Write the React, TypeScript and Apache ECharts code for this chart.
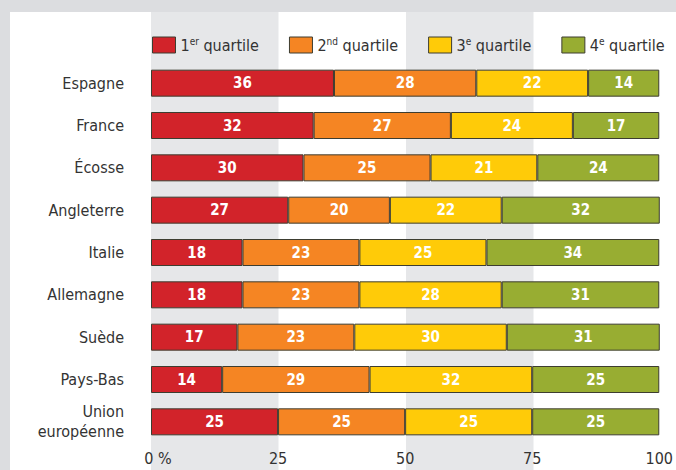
import React, { useEffect, useRef } from "react";
import * as echarts from "echarts";

const categories = ["Espagne", "France", "Écosse", "Angleterre", "Italie", "Allemagne", "Suède", "Pays-Bas", "Union\neuropéenne"];
const seriesNames = ["1er quartile", "2nd quartile", "3e quartile", "4e quartile"];
const q1 = [36, 32, 30, 27, 18, 18, 17, 14, 25];
const q2 = [28, 27, 25, 20, 23, 23, 23, 29, 25];
const q3 = [22, 24, 21, 22, 25, 28, 30, 32, 25];
const q4 = [14, 17, 24, 32, 34, 31, 31, 25, 25];
const xTicks = [0, 25, 50, 75, 100];

const colors = ["#d2232a", "#f58523", "#ffcb08", "#98ad32"];
const FONT = "'DejaVu Sans Condensed', 'DejaVu Sans', sans-serif";
const TEXT = "#333333";

export default function App() {
  const ref = useRef<HTMLDivElement>(null);
  useEffect(() => {
    const chart = echarts.init(ref.current!, null, { renderer: "svg" });
    const values = [q1, q2, q3, q4];
    const legendRich: Record<string, string> = {
      "1er quartile": "1{s|er} quartile",
      "2nd quartile": "2{s|nd} quartile",
      "3e quartile": "3{s|e} quartile",
      "4e quartile": "4{s|e} quartile",
    };
    const gridLeft = 151;
    const gridRight = 15;
    chart.setOption({
      animation: false,
      backgroundColor: "#ffffff",
      textStyle: { fontFamily: FONT },
      graphic: [
        { type: "rect", left: 0, top: 0, shape: { width: 676, height: 12 }, style: { fill: "#dcdde0" }, z: -10 },
        { type: "rect", left: 0, top: 0, shape: { width: 10, height: 470 }, style: { fill: "#dcdde0" }, z: -10 },
      ],
      legend: {
        left: 152,
        top: 36,
        padding: 0,
        itemWidth: 23,
        itemHeight: 16,
        itemGap: 30,
        icon: "rect",
        data: seriesNames.map((n, i) => ({
          name: n,
          itemStyle: { color: colors[i], borderColor: "#3d3d30", borderWidth: 1 },
        })),
        formatter: (name: string) => legendRich[name] || name,
        textStyle: {
          fontFamily: FONT,
          fontSize: 16,
          color: TEXT,
          lineHeight: 18,
          rich: {
            s: { fontFamily: FONT, fontSize: 10, color: TEXT, verticalAlign: "top", lineHeight: 11 },
          },
        },
        selectedMode: false,
      },
      grid: [
        { left: gridLeft, right: gridRight, top: 62, bottom: 27, containLabel: false },
        { left: gridLeft, right: gridRight, top: 12, bottom: 0, containLabel: false },
      ],
      xAxis: [
        {
          type: "value",
          gridIndex: 0,
          min: 0,
          max: 100,
          interval: 25,
          axisLine: { show: false },
          axisTick: { show: false },
          splitLine: { show: false },
          axisLabel: {
            margin: 7,
            fontFamily: FONT,
            fontSize: 16,
            color: TEXT,
            formatter: (v: number) => (v === xTicks[0] ? "{z|0 %}" : String(v)),
            rich: { z: { fontFamily: FONT, fontSize: 16, color: TEXT, padding: [0, 0, 0, 14] } },
          },
        },
        {
          type: "value",
          gridIndex: 1,
          min: 0,
          max: 100,
          interval: 25,
          axisLine: { show: false },
          axisTick: { show: false },
          axisLabel: { show: false },
          splitLine: { show: false },
          splitArea: { show: true, areaStyle: { color: ["#e6e7e9", "rgba(255,255,255,0)"] } },
        },
      ],
      yAxis: [
        {
          type: "category",
          gridIndex: 0,
          data: categories,
          inverse: true,
          axisLine: { show: false },
          axisTick: { show: false },
          axisLabel: { margin: 27, fontFamily: FONT, fontSize: 16, color: TEXT, lineHeight: 20 },
        },
        { type: "value", gridIndex: 1, show: false, min: 0, max: 1 },
      ],
      series: seriesNames.map((n, i) => ({
        name: n,
        type: "bar",
        stack: "total",
        xAxisIndex: 0,
        yAxisIndex: 0,
        barWidth: 27,
        data: values[i],
        itemStyle: { color: colors[i], borderColor: "#3d3d30", borderWidth: 1 },
        label: {
          show: true,
          position: "inside",
          color: "#ffffff",
          fontFamily: FONT,
          fontWeight: "bold",
          fontSize: 15,
        },
      })),
    });
    return () => chart.dispose();
  }, []);
  return <div ref={ref} style={{ position: "fixed", left: 0, top: 0, width: 676, height: 470 }} />;
}
